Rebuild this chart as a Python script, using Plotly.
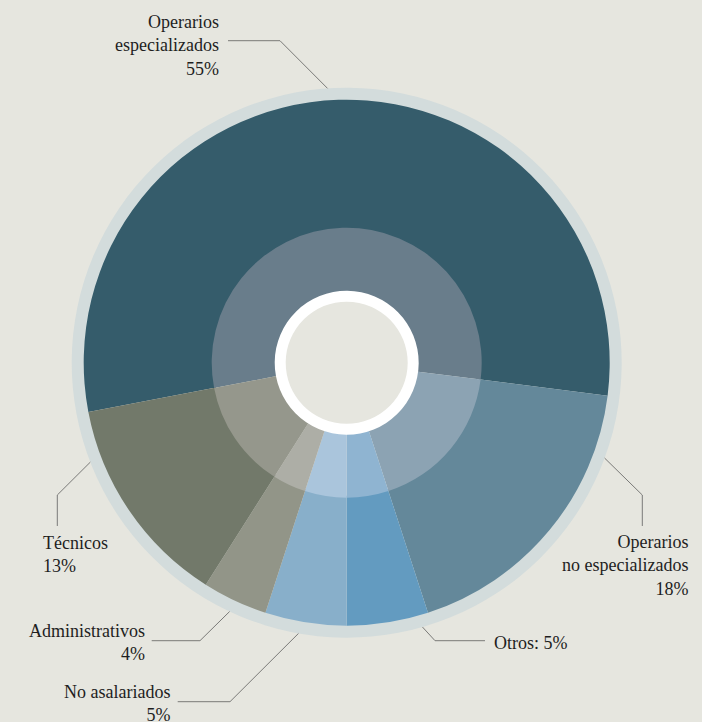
import math
import plotly.graph_objects as go

# Workforce composition by occupational category
categories = [
    "Operarios especializados",
    "Operarios no especializados",
    "Otros",
    "No asalariados",
    "Administrativos",
    "Técnicos",
]
shares = [55, 18, 5, 5, 4, 13]
label_texts = [
    "Operarios<br>especializados<br>55%",
    "Operarios<br>no especializados<br>18%",
    "Otros: 5%",
    "No asalariados<br>5%",
    "Administrativos<br>4%",
    "Técnicos<br>13%",
]

outer_colors = ["#355c6b", "#64889a", "#639bc0", "#88afca", "#929588", "#72796a"]
inner_colors = ["#697d8b", "#8ca3b3", "#8fb4d1", "#aac5dc", "#adaea6", "#95978c"]

W, H = 702, 722
CX, CY = 346.7, 362.7          # ring centre in pixels
R_BORDER, R_OUTER, R_INNER, R_WHITE, R_HOLE = 275, 263, 135, 72, 61
BG = "#e6e6df"
FONT = "'Liberation Serif', 'Times New Roman', 'DejaVu Serif', serif"


def disc_domain(r):
    return dict(x=[(CX - r) / W, (CX + r) / W], y=[1 - (CY + r) / H, 1 - (CY - r) / H])


def px(x, y):
    return x / W, 1 - y / H


# first slice starts so the Otros / No asalariados boundary sits at 6 o'clock
total = sum(shares)
rotation = 180 - 360 * sum(shares[:3]) / total

common = dict(sort=False, direction="clockwise", rotation=rotation, textinfo="none",
              hoverinfo="skip", showlegend=False)

fig = go.Figure()
# pale outer rim
fig.add_trace(go.Pie(values=[1], labels=["rim"], marker=dict(colors=["#d3dcdc"], line=dict(width=0)),
                     hole=(R_OUTER - 2) / R_BORDER, domain=disc_domain(R_BORDER), **common))
# main slices
fig.add_trace(go.Pie(values=shares, labels=categories,
                     marker=dict(colors=outer_colors, line=dict(width=0)),
                     hole=(R_INNER - 2) / R_OUTER, domain=disc_domain(R_OUTER), **common))
# lighter inner band
fig.add_trace(go.Pie(values=shares, labels=categories,
                     marker=dict(colors=inner_colors, line=dict(width=0)),
                     hole=(R_WHITE - 2) / R_INNER, domain=disc_domain(R_INNER), **common))
# white collar around the centre
fig.add_trace(go.Pie(values=[1], labels=["centre"], marker=dict(colors=["#ffffff"], line=dict(width=0)),
                     hole=R_HOLE / R_WHITE, domain=disc_domain(R_WHITE), **common))

# leader lines: anchor angle on the rim (clockwise from 12 o'clock), elbow, tail, text box
callouts = [
    dict(angle=356.0, elbow=(280, 40.7), tail=(228, 40.7), tx=219, ty=45.3, anchor="right"),
    dict(angle=110.3, elbow=(642.3, 495), tail=(642.3, 526), tx=688, ty=565, anchor="right"),
    dict(angle=164.0, elbow=(435, 640.7), tail=(485, 640.7), tx=494, ty=642.5, anchor="left"),
    dict(angle=190.1, elbow=(230, 701.7), tail=(177.7, 701.7), tx=170, ty=703.4, anchor="right"),
    dict(angle=205.2, elbow=(200, 640.7), tail=(151.7, 640.7), tx=145, ty=642.5, anchor="right"),
    dict(angle=248.8, elbow=(57.3, 495), tail=(57.3, 526), tx=42.7, ty=554, anchor="left"),
]

for text, c in zip(label_texts, callouts):
    a = math.radians(c["angle"])
    ax = CX + R_BORDER * math.sin(a)
    ay = CY - R_BORDER * math.cos(a)
    pts = [(ax, ay), c["elbow"], c["tail"]]
    path = "M " + " L ".join(f"{px(x, y)[0]:.5f},{px(x, y)[1]:.5f}" for x, y in pts)
    fig.add_shape(type="path", path=path, xref="paper", yref="paper",
                  line=dict(color="#7a7a78", width=1))
    x, y = px(c["tx"], c["ty"])
    fig.add_annotation(text=text, x=x, y=y, xref="paper", yref="paper",
                       xanchor=c["anchor"], yanchor="middle", align=c["anchor"],
                       showarrow=False, borderpad=0, borderwidth=0,
                       font=dict(family=FONT, size=18, color="#1e1e1e"))

fig.update_layout(width=W, height=H, margin=dict(l=0, r=0, t=0, b=0),
                  paper_bgcolor=BG, plot_bgcolor=BG)

fig.write_html("out.html")
